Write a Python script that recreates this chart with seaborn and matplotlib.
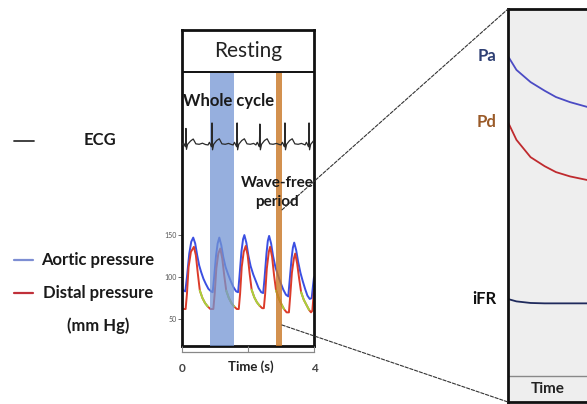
import matplotlib
matplotlib.use("Agg")
import matplotlib.pyplot as plt
from matplotlib.patches import ConnectionPatch
import numpy as np
import seaborn as sns

sns.set_style("white")
plt.rcParams['font.family'] = ['Lato', 'DejaVu Sans']

# ---- resting recording (time in s, pressure in mm Hg) ----
aortic_t = [0.00, 0.05, 0.10, 0.15, 0.22, 0.28, 0.34, 0.40, 0.46, 0.52, 0.58, 0.65, 0.72, 0.80, 0.88, 0.93,
            0.97, 1.03, 1.08, 1.13, 1.19, 1.25, 1.32, 1.40, 1.48, 1.56, 1.64, 1.70,
            1.74, 1.80, 1.85, 1.89, 1.95, 2.01, 2.08, 2.16, 2.24, 2.32, 2.40, 2.46,
            2.50, 2.56, 2.60, 2.64, 2.70, 2.76, 2.83, 2.91, 2.99, 3.07, 3.15, 3.22,
            3.26, 3.32, 3.36, 3.40, 3.46, 3.52, 3.59, 3.66, 3.73, 3.80, 3.87, 3.93, 3.97, 4.00]
aortic_p = [86, 84, 83, 100, 128, 142, 147, 140, 126, 114, 106, 98, 92, 86, 83, 82,
            98, 125, 140, 147, 138, 124, 112, 103, 95, 88, 83, 82,
            100, 130, 145, 150, 141, 126, 113, 103, 95, 87, 82, 81,
            98, 128, 143, 149, 140, 125, 112, 102, 93, 85, 79, 77,
            95, 122, 135, 141, 132, 118, 105, 95, 86, 78, 74, 75, 90, 100]

distal_t = [0.00, 0.05, 0.11, 0.15, 0.20, 0.27, 0.36, 0.42, 0.48, 0.54, 0.62, 0.70, 0.78, 0.86, 0.95,
            0.99, 1.04, 1.10, 1.16, 1.22, 1.28, 1.34, 1.42, 1.50, 1.58, 1.66, 1.72,
            1.76, 1.81, 1.87, 1.93, 1.99, 2.05, 2.11, 2.19, 2.27, 2.35, 2.43, 2.48,
            2.52, 2.57, 2.63, 2.67, 2.73, 2.79, 2.85, 2.93, 3.01, 3.09, 3.17, 3.24,
            3.28, 3.33, 3.39, 3.43, 3.49, 3.55, 3.61, 3.69, 3.77, 3.85, 3.91, 3.95, 4.00]
distal_p = [63, 62, 62, 80, 112, 130, 136, 126, 104, 84, 75, 69, 65, 62, 62,
            80, 110, 128, 134, 122, 102, 84, 75, 69, 65, 62, 62,
            80, 112, 130, 137, 126, 104, 85, 76, 70, 66, 63, 63,
            80, 110, 130, 136, 124, 102, 84, 75, 68, 62, 58, 58,
            78, 105, 122, 128, 116, 98, 82, 73, 67, 61, 58, 60, 85]

wave_free = [(0.54, 0.78), (1.34, 1.58), (2.11, 2.35), (2.85, 3.09), (3.61, 3.85)]

ecg_t = [0.00, 0.04, 0.08, 0.105, 0.12, 0.135, 0.17, 0.26, 0.34, 0.42, 0.52, 0.62, 0.71, 0.79,
         0.83, 0.87, 0.895, 0.91, 0.925, 0.96, 1.05, 1.13, 1.21, 1.31, 1.41, 1.50, 1.55,
         1.59, 1.63, 1.655, 1.67, 1.685, 1.72, 1.81, 1.89, 1.97, 2.07, 2.17, 2.24,
         2.28, 2.32, 2.345, 2.36, 2.375, 2.41, 2.50, 2.58, 2.66, 2.76, 2.86, 2.95, 3.00,
         3.04, 3.08, 3.105, 3.12, 3.135, 3.17, 3.26, 3.34, 3.42, 3.52, 3.62, 3.70, 3.73,
         3.77, 3.81, 3.835, 3.85, 3.865, 3.90, 3.96, 3.99]
ecg_v = [0.00, 0.10, 0.00, -0.08, 0.75, -0.20, 0.03, 0.18, 0.27, 0.05, 0.03, 0.08, 0.02, 0.00,
         0.12, 0.00, -0.08, 1.00, -0.22, 0.03, 0.20, 0.28, 0.05, 0.03, 0.07, 0.02, 0.00,
         0.12, 0.00, -0.08, 1.00, -0.22, 0.03, 0.20, 0.28, 0.05, 0.03, 0.07, 0.00,
         0.12, 0.00, -0.08, 0.95, -0.22, 0.03, 0.20, 0.28, 0.05, 0.03, 0.07, 0.02, 0.00,
         0.12, 0.00, -0.08, 1.00, -0.22, 0.03, 0.20, 0.28, 0.05, 0.03, 0.07, 0.02, 0.00,
         0.12, 0.00, -0.08, 1.00, -0.22, 0.03, 0.14, 0.20]

whole_cycle = (0.85, 1.58)
wave_free_band = (2.85, 3.03)
pressure_ticks = [50, 100, 150]

# ---- zoomed wave-free period (arbitrary units) ----
zoom_t = [0.00, 0.03, 0.08, 0.13, 0.17, 0.22, 0.28, 0.40, 0.60, 1.00]
pa_v = [88.0, 84.5, 81.4, 79.2, 77.6, 76.3, 75.1, 73.6, 72.3, 71.5]
pd_v = [71.2, 66.7, 62.3, 60.0, 58.5, 57.4, 56.5, 55.6, 55.0, 54.8]
ifr_v = [26.2, 25.6, 25.2, 25.1, 25.1, 25.1, 25.1, 25.2, 25.3, 25.3]

BLUE = '#3b4fe2'
RED = '#dc3b2a'
GREEN = '#a8d43c'

W, H = 587, 404
fig = plt.figure(figsize=(W / 100, H / 100), dpi=100)


def box(x0, y0, x1, y1):
    return [x0 / W, 1 - y1 / H, (x1 - x0) / W, (y1 - y0) / H]


# canvas for the free-standing labels
canvas = fig.add_axes([0, 0, 1, 1])
canvas.set_xlim(0, W)
canvas.set_ylim(H, 0)
canvas.axis('off')
lab = dict(fontsize=12, fontweight='bold', ha='center', va='center', color='#1a1a1a')
canvas.plot([14, 34], [141, 141], color='#333333', lw=1.3)
canvas.text(100, 140, 'ECG', **lab)
canvas.plot([14, 33], [260, 260], color='#7d8ed3', lw=1.6)
canvas.text(98, 260, 'Aortic pressure', **lab)
canvas.plot([14, 33], [293, 293], color='#c0303a', lw=1.6)
canvas.text(98, 293, 'Distal pressure', **lab)
canvas.text(98, 326, '(mm Hg)', **lab)

# ---- left panel ----
ax = fig.add_axes(box(182, 30, 314, 346))
ax.set_xlim(0, 4)
ax.set_ylim(18, 394)
sns.lineplot(x=aortic_t, y=aortic_p, ax=ax, color=BLUE, lw=1.4, zorder=2)
sns.lineplot(x=distal_t, y=distal_p, ax=ax, color=RED, lw=1.4, zorder=2)
dt = np.array(distal_t)
dp = np.array(distal_p)
for a, b in wave_free:
    m = (dt >= a) & (dt <= b)
    sns.lineplot(x=dt[m], y=dp[m], ax=ax, color=GREEN, lw=1.4, zorder=2.5)

header = 0.867
ax.axvspan(*whole_cycle, ymin=0, ymax=header, color='#7395d3', alpha=0.75, lw=0, zorder=3)
ax.axvspan(*wave_free_band, ymin=0, ymax=header, color='#c97623', alpha=0.8, lw=0, zorder=3)
ax.plot([0, 1], [header, header], transform=ax.transAxes, color='#111111', lw=1.4, zorder=4)
ax.text(2.0, 369, 'Resting', ha='center', va='center', fontsize=15, color='#222222')
ax.text(0.04, 310, 'Whole cycle', ha='left', va='center', fontsize=12,
        fontweight='bold', color='#1a1a1a', zorder=5)
ax.text(2.88, 212, 'Wave-free', ha='center', va='center', fontsize=11,
        fontweight='bold', color='#1a1a1a', zorder=5)
ax.text(2.88, 189, 'period', ha='center', va='center', fontsize=11,
        fontweight='bold', color='#1a1a1a', zorder=5)
ax.set_xticks([])
ax.set_yticks(pressure_ticks)
ax.set_yticklabels([str(v) for v in pressure_ticks], fontsize=5, color='#555555')
ax.tick_params(axis='y', direction='out', length=3, width=0.6, pad=1, left=True, color='#555555')
ax.set_xlabel('')
ax.set_ylabel('')
for s in ax.spines.values():
    s.set_linewidth(2)
    s.set_color('#111111')

# ECG strip
ax_e = fig.add_axes(box(182, 115, 314, 152))
ax_e.set_xlim(0, 4)
ax_e.set_ylim(-0.32, 1.36)
sns.lineplot(x=ecg_t, y=ecg_v, ax=ax_e, color='#2a2a2a', lw=0.9)
ax_e.axis('off')
ax_e.patch.set_alpha(0)

# time axis under the panel
ax_t = fig.add_axes(box(182, 351, 314, 352))
ax_t.set_xlim(0, 4)
ax_t.set_yticks([])
ax_t.set_xticks([0, 2, 4])
ax_t.set_xticklabels(['0', '', '4'], fontsize=8.5, fontweight='bold', color='#444444')
ax_t.tick_params(axis='x', direction='in', length=4, width=0.8, color='#888888', pad=8, bottom=True)
for k in ['top', 'left', 'right']:
    ax_t.spines[k].set_visible(False)
ax_t.spines['bottom'].set_color('#888888')
ax_t.spines['bottom'].set_linewidth(0.9)
ax_t.patch.set_alpha(0)
ax_t.text(2.1, -14.5, 'Time (s)', transform=ax_t.get_xaxis_transform(), ha='center', va='center',
          fontsize=9.5, fontweight='bold', color='#222222')

# ---- right (zoomed) panel ----
ax_r = fig.add_axes(box(508, 9, 790, 402))
ax_r.set_xlim(0, 1)
ax_r.set_ylim(0, 100)
ax_r.set_facecolor('#eeeeee')
sns.lineplot(x=zoom_t, y=pa_v, ax=ax_r, color='#4b4bc4', lw=1.3)
sns.lineplot(x=zoom_t, y=pd_v, ax=ax_r, color='#bf2a2e', lw=1.3)
sns.lineplot(x=zoom_t, y=ifr_v, ax=ax_r, color='#1f2a5c', lw=1.3)
ax_r.axhline(6.6, color='#888888', lw=1)
ax_r.text(0.142, 3.3, 'Time', ha='center', va='center', fontsize=11, fontweight='bold', color='#222222')
yt = ax_r.get_yaxis_transform()
for val, name, col in [(pa_v[0], 'Pa', '#2e3f73'), (pd_v[0], 'Pd', '#9a5a28'), (ifr_v[0], 'iFR', '#111111')]:
    ax_r.text(-0.04, val, name, transform=yt, ha='right', va='center', fontsize=12,
              fontweight='bold', color=col)
ax_r.set_xticks([])
ax_r.set_yticks([])
ax_r.set_xlabel('')
ax_r.set_ylabel('')
for s in ax_r.spines.values():
    s.set_linewidth(2)
    s.set_color('#111111')

# connectors from the wave-free band to the zoomed panel
for y0, corner in [(180, (0, 1)), (43, (0, 0))]:
    con = ConnectionPatch(xyA=(wave_free_band[1], y0), coordsA=ax.transData,
                          xyB=corner, coordsB=ax_r.transAxes,
                          color='#333333', lw=0.8, linestyle=(0, (3, 1.5)))
    fig.add_artist(con)

fig.savefig('out.png', dpi=100)
